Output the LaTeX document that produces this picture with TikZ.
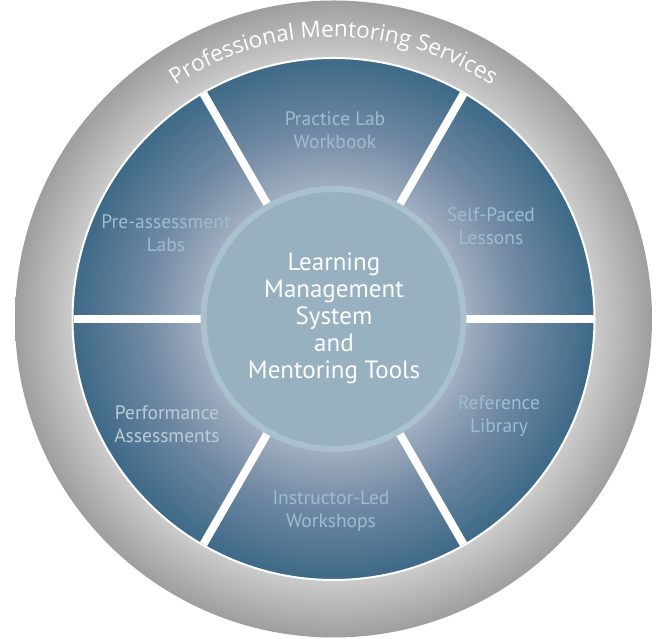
\documentclass[tikz,border=0pt]{standalone}
\usepackage{fontspec}
\setmainfont{PT Sans}
\newfontfamily\ringfont{Open Sans}
\usetikzlibrary{calc,decorations.text}
\definecolor{rimblue}{HTML}{3D6987}
\definecolor{midblue}{HTML}{7189A3}
\definecolor{innerblue}{HTML}{A0AEC0}
\definecolor{hubfill}{HTML}{97B1C0}
\definecolor{hubring}{HTML}{A9C1CD}
\definecolor{labelc}{HTML}{9CBDCF}
\definecolor{labelb}{HTML}{B8CDD8}
\definecolor{graylight}{HTML}{CBCBCB}
\definecolor{graydark}{HTML}{9E9E9E}
\pgfdeclareradialshading{bluesh}{\pgfpoint{0bp}{0bp}}{color(0bp)=(innerblue); color(12.7bp)=(innerblue); color(18bp)=(midblue); color(25bp)=(rimblue); color(50bp)=(rimblue)}
\pgfdeclareradialshading{graysh}{\pgfpoint{0bp}{0bp}}{color(0bp)=(graylight); color(20.5bp)=(graylight); color(25bp)=(graydark); color(50bp)=(graydark)}
\tikzset{
  seglabel/.style={align=center, text=labelc, font=\fontsize{19.5}{23}\selectfont, inner sep=0pt},
  hublabel/.style={align=center, text=white, font=\fontsize{25}{27}\selectfont, inner sep=0pt},
  gapbar/.style={white, line width=8pt}
}
\begin{document}
\begin{tikzpicture}[x=1pt,y=1pt]
\useasboundingbox (0,0) rectangle (659,639);
\coordinate (C) at (333.5,320);
% outer gray ring
\shade[shading=graysh] (C) circle[radius=318.5];
% blue disk
\shade[shading=bluesh] (C) circle[radius=261];
\draw[white, line width=2pt] (C) circle[radius=261];
% gaps between segments
\foreach \a in {0,60,120,180,240,300}
  \draw[gapbar] ($(C)+(\a:120)$) -- ($(C)+(\a:260)$);
% hub
\node[circle, minimum size=260pt, fill=hubfill, draw=hubring, line width=6pt, inner sep=0pt] (hub) at (C) {};
\node[hublabel] (hubtext) at (334,321) {Learning\\Management\\System\\and\\Mentoring Tools};
% segment labels
\node[seglabel] (practice) at (335,509) {Practice Lab\\Workbook};
\node[seglabel] (selfpaced) at (491,413) {Self-Paced\\Lessons};
\node[seglabel] (reference) at (499,223) {Reference\\Library};
\node[seglabel] (instructor) at (331,128) {Instructor-Led\\Workshops};
\node[seglabel, text=labelb] (performance) at (167,215) {Performance\\Assessments};
\node[seglabel] (preassess) at (166,406) {Pre-assessment\\Labs};
% ring text
\path[decorate, decoration={text along path, text align=center,
  text={|\ringfont\fontsize{22.5}{22.5}\selectfont\color{white}|Professional Mentoring Services}}]
  ($(C)+(160:282)$) arc[start angle=160, end angle=20, radius=282];
\end{tikzpicture}
\end{document}
